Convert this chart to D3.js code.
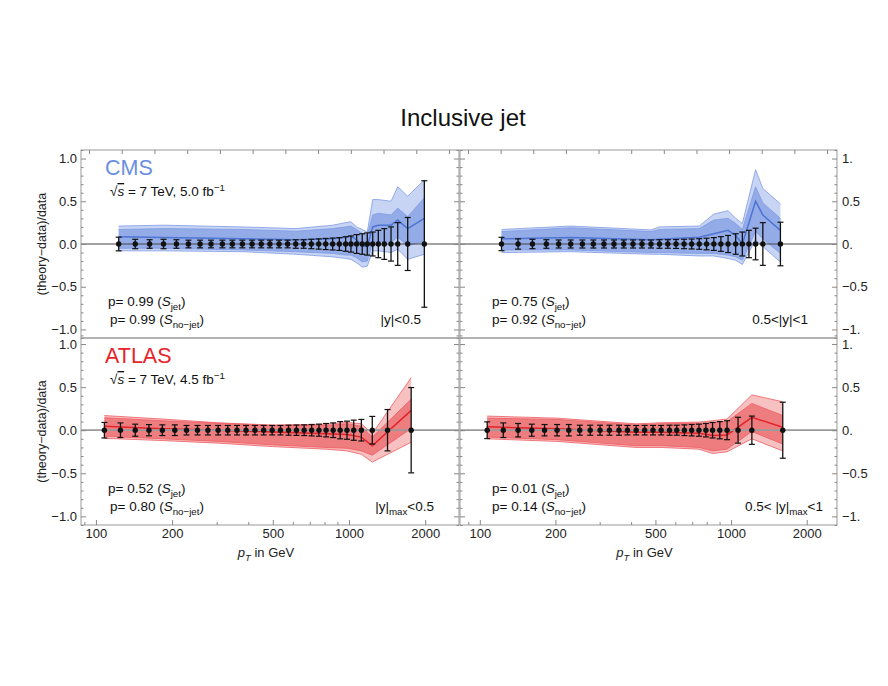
<!DOCTYPE html>
<html>
<head>
<meta charset="utf-8">
<script src="https://cdn.jsdelivr.net/npm/d3@7"></script>
<style>
  body { margin: 0; background: #fff; }
  svg text { font-family: 'Liberation Sans', Arial, sans-serif; }
</style>
</head>
<body>
<div class="canvas"></div>
<script>
// CMS, |y| < 0.5 : data points (pT in GeV) and relative data errors
const cms05Pt = [123, 143, 163, 185, 208, 232, 258, 285, 316, 346, 379, 414, 450, 487, 529, 572, 616, 662, 710, 759, 809, 862, 916, 970, 1018, 1072, 1128, 1181, 1241, 1306, 1379, 1466, 1558, 1706, 1985]
const cms05Err = [0.08, 0.055, 0.05, 0.055, 0.05, 0.045, 0.045, 0.045, 0.045, 0.045, 0.045, 0.045, 0.045, 0.045, 0.045, 0.045, 0.05, 0.05, 0.055, 0.06, 0.065, 0.07, 0.075, 0.085, 0.095, 0.11, 0.12, 0.13, 0.14, 0.16, 0.18, 0.2, 0.25, 0.31, 0.74]
// CMS, |y| < 0.5 : theory bands
const cms05BandPt = [123, 185, 379, 616, 862, 970, 1018, 1072, 1128, 1181, 1241, 1306, 1466, 1558, 1706, 1985]
const cms05Center = [0.085, 0.075, 0.06, 0.05, 0.06, 0.08, 0.09, 0.05, -0.02, -0.03, 0.2, 0.22, 0.22, 0.28, 0.18, 0.3]
const cms05InHi = [0.17, 0.18, 0.17, 0.15, 0.18, 0.2, 0.21, 0.17, 0.12, 0.1, 0.34, 0.36, 0.34, 0.42, 0.32, 0.54]
const cms05InLo = [-0.05, -0.05, -0.07, -0.09, -0.11, -0.13, -0.13, -0.16, -0.21, -0.2, 0.02, 0.03, 0.02, 0.08, -0.02, 0.03]
const cms05OutHi = [0.21, 0.22, 0.2, 0.18, 0.22, 0.25, 0.26, 0.2, 0.17, 0.14, 0.52, 0.52, 0.5, 0.67, 0.56, 0.75]
const cms05OutLo = [-0.08, -0.08, -0.09, -0.12, -0.15, -0.17, -0.18, -0.22, -0.27, -0.26, -0.08, -0.08, -0.1, -0.06, -0.18, -0.12]

// CMS, 0.5 < |y| < 1
const cms1Pt = [122, 142, 162, 184, 206, 230, 256, 283, 312, 342, 374, 407, 442, 480, 519, 560, 604, 650, 697, 747, 799, 854, 911, 973, 1043, 1109, 1178, 1252, 1338, 1572]
const cms1Err = [0.078, 0.06, 0.055, 0.05, 0.047, 0.047, 0.047, 0.047, 0.047, 0.047, 0.047, 0.047, 0.047, 0.047, 0.05, 0.05, 0.052, 0.055, 0.058, 0.062, 0.068, 0.075, 0.086, 0.1, 0.12, 0.14, 0.16, 0.185, 0.25, 0.255]
const cms1BandPt = [122, 230, 480, 519, 747, 854, 973, 1043, 1109, 1252, 1338, 1572]
const cms1Center = [0.06, 0.075, 0.05, 0.055, 0.08, 0.12, 0.16, 0.1, 0.0, 0.5, 0.34, 0.16]
const cms1InHi = [0.145, 0.19, 0.145, 0.17, 0.18, 0.28, 0.3, 0.24, 0.17, 0.67, 0.48, 0.3]
const cms1InLo = [-0.07, -0.07, -0.1, -0.1, -0.11, -0.11, -0.13, -0.15, -0.19, 0.15, 0.06, -0.11]
const cms1OutHi = [0.17, 0.21, 0.165, 0.2, 0.21, 0.35, 0.39, 0.3, 0.24, 0.87, 0.65, 0.47]
const cms1OutLo = [-0.1, -0.09, -0.12, -0.12, -0.14, -0.14, -0.17, -0.19, -0.24, 0.05, -0.03, -0.21]

// ATLAS, |y|max < 0.5
const atl05Pt = [108, 125, 143, 162, 183, 205, 228, 252, 277, 304, 332, 361, 392, 425, 460, 497, 536, 577, 620, 665, 712, 761, 812, 866, 923, 982, 1044, 1119, 1236, 1420, 1761]
const atl05Err = [0.09, 0.085, 0.07, 0.065, 0.062, 0.062, 0.055, 0.055, 0.055, 0.055, 0.055, 0.055, 0.055, 0.055, 0.055, 0.055, 0.055, 0.058, 0.06, 0.062, 0.066, 0.07, 0.078, 0.085, 0.1, 0.105, 0.117, 0.125, 0.16, 0.24, 0.495]
const atl05BandPt = [108, 183, 304, 498, 812, 982, 1119, 1236, 1761]
const atl05Center = [0.047, 0.016, 0.0, -0.02, -0.04, -0.05, -0.08, -0.18, 0.23]
const atl05InHi = [0.145, 0.11, 0.08, 0.055, 0.055, 0.075, 0.047, -0.08, 0.36]
const atl05InLo = [-0.07, -0.1, -0.13, -0.17, -0.2, -0.21, -0.24, -0.29, 0.02]
const atl05OutHi = [0.17, 0.13, 0.086, 0.06, 0.07, 0.09, 0.075, -0.04, 0.61]
const atl05OutLo = [-0.094, -0.12, -0.15, -0.19, -0.22, -0.24, -0.28, -0.37, -0.14]

// ATLAS, 0.5 < |y|max < 1
const atl1Pt = [107, 124, 142, 161, 181, 203, 226, 250, 275, 301, 328, 358, 387, 419, 453, 489, 527, 569, 608, 652, 697, 745, 794, 844, 902, 964, 1066, 1210, 1606]
const atl1Err = [0.097, 0.085, 0.078, 0.07, 0.066, 0.066, 0.066, 0.058, 0.058, 0.058, 0.058, 0.058, 0.055, 0.055, 0.055, 0.055, 0.055, 0.058, 0.058, 0.062, 0.066, 0.07, 0.078, 0.09, 0.1, 0.11, 0.15, 0.164, 0.325]
const atl1BandPt = [107, 203, 419, 527, 745, 844, 964, 1210, 1606]
const atl1Center = [0.04, 0.016, -0.023, -0.023, -0.035, -0.06, -0.055, 0.15, 0.035]
const atl1InHi = [0.14, 0.125, 0.06, 0.075, 0.08, 0.086, 0.1, 0.31, 0.17]
const atl1InLo = [-0.08, -0.11, -0.18, -0.18, -0.2, -0.24, -0.22, -0.016, -0.16]
const atl1OutHi = [0.164, 0.14, 0.074, 0.086, 0.094, 0.11, 0.13, 0.41, 0.33]
const atl1OutLo = [-0.1, -0.13, -0.2, -0.2, -0.22, -0.27, -0.25, -0.1, -0.24]

// axis ticks
const xMajorTicks = [100, 200, 500, 1000, 2000]
const xMinorTicks = [90, 300, 400, 600, 700, 800, 900, 3000]
const yMajorTicks = [-1, -0.5, 0, 0.5, 1]
const yMinorTicks = d3.range(-11, 12).filter(k => k % 5 !== 0).map(k => k / 10)

const dims = { width: 888, height: 686 }

const svg = d3.select('.canvas')
  .append('svg')
  .attr('width', dims.width)
  .attr('height', dims.height)

const cmsColors = { text: '#6a8ee2', outer: '#c8d4f3', inner: '#93abe6', edge: '#7e9be4', center: '#4e74d4' }
const atlasColors = { text: '#e8232a', outer: '#f7c1c2', inner: '#ee7d80', edge: '#ef5b60', center: '#e2232a' }

const xLeft = d3.scaleLog().domain([87.3, 2721]).range([81, 459])
const xRight = d3.scaleLog().domain([83.4, 2640]).range([460, 837])
const yTop = d3.scaleLinear().domain([-1.1, 1.1]).range([338, 150])
const yBottom = d3.scaleLinear().domain([-1.1, 1.07]).range([525, 338])

// text with italic / sub / sup / overline parts
const richText = (g, x, y, parts, opts) => {
  const text = g.append('text')
    .attr('x', x)
    .attr('y', y)
    .attr('font-size', opts.size)
    .attr('text-anchor', opts.anchor || 'start')
    .attr('fill', opts.fill || '#111')
  let shift = 0
  parts.forEach(part => {
    const s = typeof part === 'string' ? { t: part } : part
    const target = s.sub ? 3.5 : s.sup ? -5 : 0
    const ts = text.append('tspan').text(s.t).attr('dy', target - shift)
    shift = target
    if (s.sub || s.sup) ts.attr('font-size', opts.size * 0.72)
    if (s.i) ts.attr('font-style', 'italic')
    if (s.over) ts.style('text-decoration', 'overline')
  })
  return text
}

const pParts = (val, sub) => ['p= ' + val + ' (', { t: 'S', i: true }, { t: sub, sub: true }, ')']
const sqrtParts = lumi => ['√', { t: 's', i: true, over: true }, ' = 7 TeV, ' + lumi + ' fb', { t: '−1', sup: true }]

const panels = [
  {
    x: xLeft, y: yTop, pt: cms05Pt, err: cms05Err, colors: cmsColors,
    band: { pt: cms05BandPt, c: cms05Center, inLo: cms05InLo, inHi: cms05InHi, outLo: cms05OutLo, outHi: cms05OutHi },
    zero: { stroke: '#444', width: 1 }, side: 'left', bottom: false,
    label: { text: 'CMS', lumi: '5.0' }, p: ['0.99', '0.99'],
    region: ['|y|<0.5']
  },
  {
    x: xRight, y: yTop, pt: cms1Pt, err: cms1Err, colors: cmsColors,
    band: { pt: cms1BandPt, c: cms1Center, inLo: cms1InLo, inHi: cms1InHi, outLo: cms1OutLo, outHi: cms1OutHi },
    zero: { stroke: '#444', width: 1 }, side: 'right', bottom: false,
    p: ['0.75', '0.92'], region: ['0.5<|y|<1']
  },
  {
    x: xLeft, y: yBottom, pt: atl05Pt, err: atl05Err, colors: atlasColors,
    band: { pt: atl05BandPt, c: atl05Center, inLo: atl05InLo, inHi: atl05InHi, outLo: atl05OutLo, outHi: atl05OutHi },
    zero: { stroke: '#9a9a9a', width: 1.8 }, side: 'left', bottom: true,
    label: { text: 'ATLAS', lumi: '4.5' }, p: ['0.52', '0.80'],
    region: ['|y|', { t: 'max', sub: true }, '<0.5']
  },
  {
    x: xRight, y: yBottom, pt: atl1Pt, err: atl1Err, colors: atlasColors,
    band: { pt: atl1BandPt, c: atl1Center, inLo: atl1InLo, inHi: atl1InHi, outLo: atl1OutLo, outHi: atl1OutHi },
    zero: { stroke: '#9a9a9a', width: 1.8 }, side: 'right', bottom: true,
    p: ['0.01', '0.14'], region: ['0.5< |y|', { t: 'max', sub: true }, '<1']
  }
]

const drawPanel = (p, i) => {
  const { x, y, colors } = p
  const [x0, x1] = x.range()
  const [yb, yt] = y.range()
  const g = svg.append('g')

  svg.append('clipPath').attr('id', 'clip' + i)
    .append('rect')
      .attr('x', x0).attr('y', yt)
      .attr('width', x1 - x0).attr('height', yb - yt)

  const bandData = p.band.pt.map((pt, j) => ({
    pt,
    c: p.band.c[j],
    inLo: p.band.inLo[j], inHi: p.band.inHi[j],
    outLo: p.band.outLo[j], outHi: p.band.outHi[j]
  }))

  const area = (lo, hi) => d3.area()
    .x(d => x(d.pt))
    .y0(d => y(d[lo]))
    .y1(d => y(d[hi]))
  const line = key => d3.line()
    .x(d => x(d.pt))
    .y(d => y(d[key]))

  const bands = g.append('g').attr('clip-path', `url(#clip${i})`)
  bands.append('path').datum(bandData)
    .attr('d', area('outLo', 'outHi'))
    .attr('fill', colors.outer)
  bands.append('path').datum(bandData)
    .attr('d', area('inLo', 'inHi'))
    .attr('fill', colors.inner)
  ;['outLo', 'outHi', 'inLo', 'inHi'].forEach(k => {
    bands.append('path').datum(bandData)
      .attr('d', line(k))
      .attr('fill', 'none')
      .attr('stroke', colors.edge)
      .attr('stroke-width', 0.8)
  })

  // zero line
  g.append('line')
    .attr('x1', x0).attr('x2', x1)
    .attr('y1', y(0)).attr('y2', y(0))
    .attr('stroke', p.zero.stroke)
    .attr('stroke-width', p.zero.width)

  bands.append('path').datum(bandData)
    .attr('d', line('c'))
    .attr('fill', 'none')
    .attr('stroke', colors.center)
    .attr('stroke-width', 1.5)

  // data points with error bars
  const pts = p.pt.map((pt, j) => ({ pt, e: p.err[j] }))
  const marks = g.selectAll('.pt')
    .data(pts)
    .enter()
    .append('g')
      .attr('class', 'pt')
      .attr('transform', d => `translate(${x(d.pt)}, 0)`)
  marks.append('line')
    .attr('y1', d => y(-d.e)).attr('y2', d => y(d.e))
    .attr('stroke', '#111').attr('stroke-width', 1.3)
  marks.append('line')
    .attr('x1', -3).attr('x2', 3)
    .attr('y1', d => y(d.e)).attr('y2', d => y(d.e))
    .attr('stroke', '#111').attr('stroke-width', 1.2)
  marks.append('line')
    .attr('x1', -3).attr('x2', 3)
    .attr('y1', d => y(-d.e)).attr('y2', d => y(-d.e))
    .attr('stroke', '#111').attr('stroke-width', 1.2)
  marks.append('circle')
    .attr('cy', y(0))
    .attr('r', 2.7)
    .attr('fill', '#111')

  // frame
  g.append('rect')
    .attr('x', x0).attr('y', yt)
    .attr('width', x1 - x0).attr('height', yb - yt)
    .attr('fill', 'none')
    .attr('stroke', '#999')
    .attr('stroke-width', 1)

  const clean = a => a.call(s => s.select('.domain').remove())
    .call(s => s.selectAll('.tick line').attr('stroke', '#888'))

  // y ticks, labels on the outer side
  const outer = p.side === 'left' ? d3.axisLeft : d3.axisRight
  const inner = p.side === 'left' ? d3.axisRight : d3.axisLeft
  const outerX = p.side === 'left' ? x0 : x1
  const innerX = p.side === 'left' ? x1 : x0
  const fmt = p.side === 'left'
    ? d3.format('.1f')
    : d => (Number.isInteger(d) ? d3.format('d')(d) + '.' : d3.format('.1f')(d))

  g.append('g')
    .attr('transform', `translate(${outerX}, 0)`)
    .call(outer(y).tickValues(yMajorTicks).tickFormat(fmt).tickSizeInner(-5).tickSizeOuter(0).tickPadding(p.side === 'left' ? 4 : 5))
    .call(clean)
    .call(s => s.selectAll('text').attr('font-size', 13).attr('fill', '#222').attr('font-family', null))
  g.append('g')
    .attr('transform', `translate(${outerX}, 0)`)
    .call(outer(y).tickValues(yMinorTicks).tickFormat('').tickSizeInner(-2.5).tickSizeOuter(0))
    .call(clean)
  g.append('g')
    .attr('transform', `translate(${innerX}, 0)`)
    .call(inner(y).tickValues(yMajorTicks).tickFormat('').tickSizeInner(-5).tickSizeOuter(0))
    .call(clean)
  g.append('g')
    .attr('transform', `translate(${innerX}, 0)`)
    .call(inner(y).tickValues(yMinorTicks).tickFormat('').tickSizeInner(-2.5).tickSizeOuter(0))
    .call(clean)

  if (p.bottom) {
    g.append('g')
      .attr('transform', `translate(0, ${yb})`)
      .call(d3.axisBottom(x).tickValues(xMajorTicks).tickFormat(d3.format('d')).tickSizeInner(-5).tickSizeOuter(0).tickPadding(4))
      .call(clean)
      .call(s => s.selectAll('text').attr('font-size', 13).attr('fill', '#222').attr('font-family', null))
    g.append('g')
      .attr('transform', `translate(0, ${yb})`)
      .call(d3.axisBottom(x).tickValues(xMinorTicks.filter(v => v > x.domain()[0] && v < x.domain()[1])).tickFormat('').tickSizeInner(-3).tickSizeOuter(0))
      .call(clean)
    richText(svg, (x0 + x1) / 2 - 4, 557, [{ t: 'p', i: true }, { t: 'T', i: true, sub: true }, ' in GeV'], { size: 13, anchor: 'middle', fill: '#222' })
  } else {
    // plain evenly spaced frame ticks along the top edge
    const top = d3.scaleLinear().domain([0, 11]).range([x0 + 8, x1 - 10])
    g.append('g')
      .attr('transform', `translate(0, ${yt})`)
      .call(d3.axisTop(top).tickValues(d3.range(0, 12)).tickFormat('').tickSizeInner(-4).tickSizeOuter(0))
      .call(clean)
  }

  // annotations
  if (p.label) {
    g.append('text')
      .attr('x', x0 + 24).attr('y', yt + 25)
      .attr('font-size', 21.5)
      .attr('fill', colors.text)
      .text(p.label.text)
    richText(g, x0 + 29, yt + 46, sqrtParts(p.label.lumi), { size: 13.5 })
  }
  const px = p.side === 'left' ? x0 + 27 : x0 + 32
  richText(g, px, yb - 32, pParts(p.p[0], 'jet'), { size: 13.5 })
  richText(g, px + (p.side === 'left' ? 2 : 0), yb - 14, pParts(p.p[1], 'no−jet'), { size: 13.5 })
  richText(g, p.side === 'left' ? x1 - (p.bottom ? 25 : 38) : x1 - (p.bottom ? 14 : 29), yb - 14, p.region, { size: 13.5, anchor: 'end' })

  // y axis title
  if (p.side === 'left') {
    svg.append('text')
      .attr('transform', `translate(46, ${(yt + yb) / 2}) rotate(-90)`)
      .attr('text-anchor', 'middle')
      .attr('font-size', 12.5)
      .attr('fill', '#222')
      .text('(theory−data)/data')
  }
}

panels.forEach(drawPanel)

svg.append('text')
  .attr('x', 463).attr('y', 126)
  .attr('text-anchor', 'middle')
  .attr('font-size', 24)
  .attr('fill', '#111')
  .text('Inclusive jet')
</script>
</body>
</html>
